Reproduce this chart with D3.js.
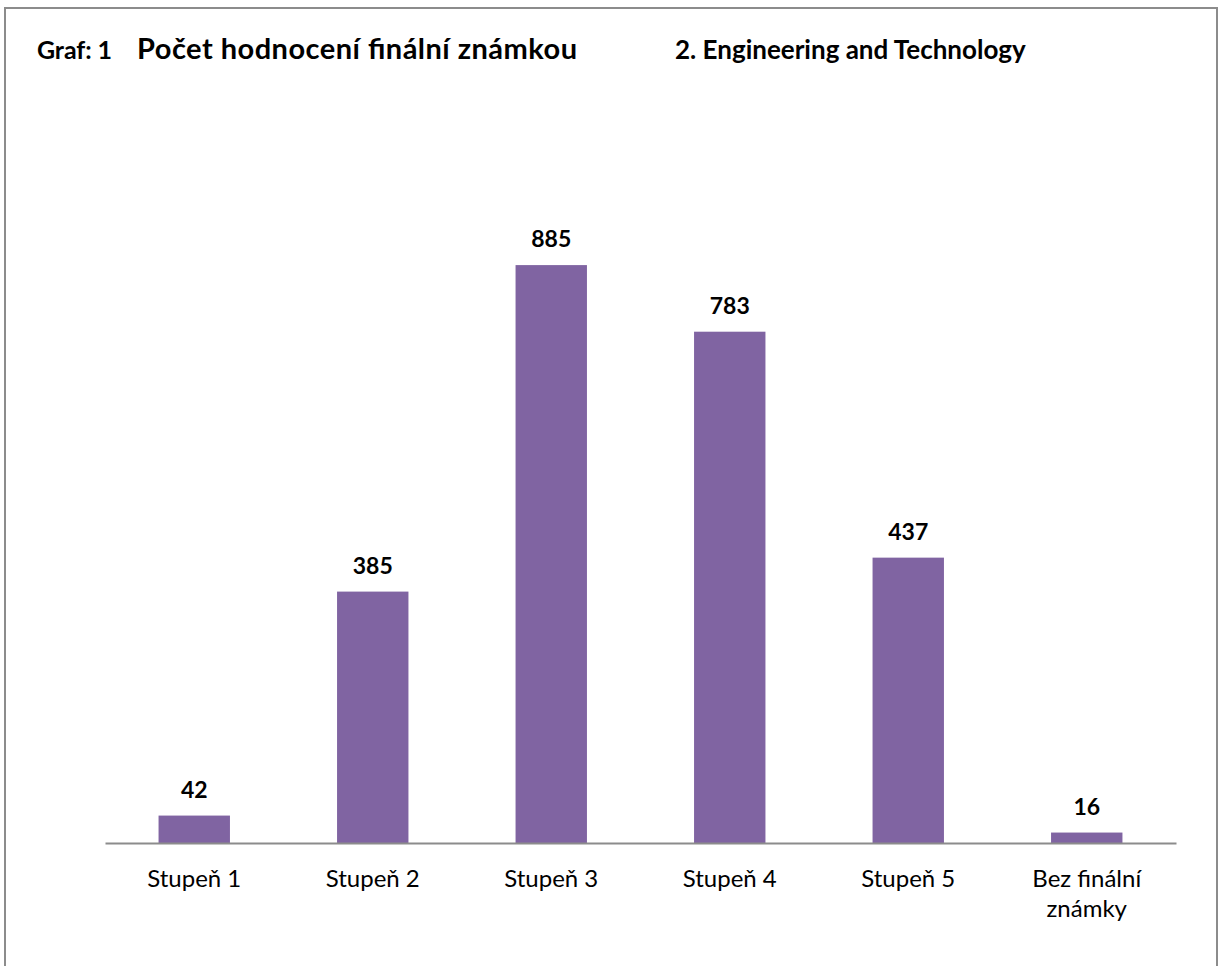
<!DOCTYPE html>
<html>
<head>
<meta charset="utf-8">
<script src="https://cdn.jsdelivr.net/npm/d3@7"></script>
<style>
  body { margin: 0; background: #fff; }
  text { font-family: Lato, "Noto Sans", sans-serif; fill: #000; }
</style>
</head>
<body>
<svg width="1220" height="966"></svg>
<script>
var categories = ["Stupeň 1", "Stupeň 2", "Stupeň 3", "Stupeň 4", "Stupeň 5", "Bez finální známky"];
var values = [42, 385, 885, 783, 437, 16];
var titleLeft = "Graf: 1";
var titleMain = "Počet hodnocení finální známkou";
var titleRight = "2. Engineering and Technology";

var svg = d3.select("svg"),
    margin = {top: 190, right: 44, bottom: 123, left: 105},
    width = +svg.attr("width") - margin.left - margin.right,
    height = +svg.attr("height") - margin.top - margin.bottom,
    g = svg.append("g").attr("transform", "translate(" + margin.left + "," + margin.top + ")");

// outer frame
svg.append("rect")
    .attr("x", 5).attr("y", 8)
    .attr("width", 1212).attr("height", 970)
    .attr("fill", "none")
    .attr("stroke", "#8c8c8c")
    .attr("stroke-width", 2);

// titles
svg.append("text").attr("x", 37).attr("y", 59)
    .style("font-weight", "bold").style("font-size", "25px")
    .attr("textLength", 75).attr("lengthAdjust", "spacing")
    .text(titleLeft);
svg.append("text").attr("x", 137).attr("y", 59)
    .style("font-weight", "bold").style("font-size", "29px")
    .attr("textLength", 440).attr("lengthAdjust", "spacing")
    .text(titleMain);
svg.append("text").attr("x", 675).attr("y", 59)
    .style("font-weight", "bold").style("font-size", "26px")
    .text(titleRight);

var x = d3.scaleBand()
    .domain(categories)
    .range([0, width])
    .paddingInner(0.6)
    .paddingOuter(0.3);

var y = d3.scaleLinear()
    .domain([0, 1000])
    .range([height, 0]);

g.selectAll(".bar")
  .data(values)
  .enter().append("rect")
    .attr("class", "bar")
    .attr("x", function(d, i) { return x(categories[i]); })
    .attr("y", function(d) { return y(d); })
    .attr("width", x.bandwidth())
    .attr("height", function(d) { return y(0) - y(d); })
    .attr("fill", "#8064a2");

g.selectAll(".lbl")
  .data(values)
  .enter().append("text")
    .attr("class", "lbl")
    .attr("x", function(d, i) { return x(categories[i]) + x.bandwidth() / 2; })
    .attr("y", function(d) { return y(d) - 18; })
    .attr("text-anchor", "middle")
    .style("font-weight", "bold")
    .style("font-size", "23px")
    .text(function(d) { return d; });

var xAxis = g.append("g")
    .attr("transform", "translate(0," + y(0) + ")")
    .call(d3.axisBottom(x).tickSize(0).tickSizeOuter(0).tickFormat(""));
xAxis.select(".domain").attr("stroke", "#8c8c8c").attr("stroke-width", 2);

// wrapped category labels
xAxis.selectAll(".tick").each(function(d) {
  var t = d3.select(this).append("text")
      .attr("text-anchor", "middle")
      .style("font-size", "24px");
  var lines = d === "Bez finální známky" ? ["Bez finální", "známky"] : [d];
  lines.forEach(function(s, i) {
    t.append("tspan").attr("x", 0).attr("y", 44 + i * 30).text(s);
  });
});
</script>
</body>
</html>
